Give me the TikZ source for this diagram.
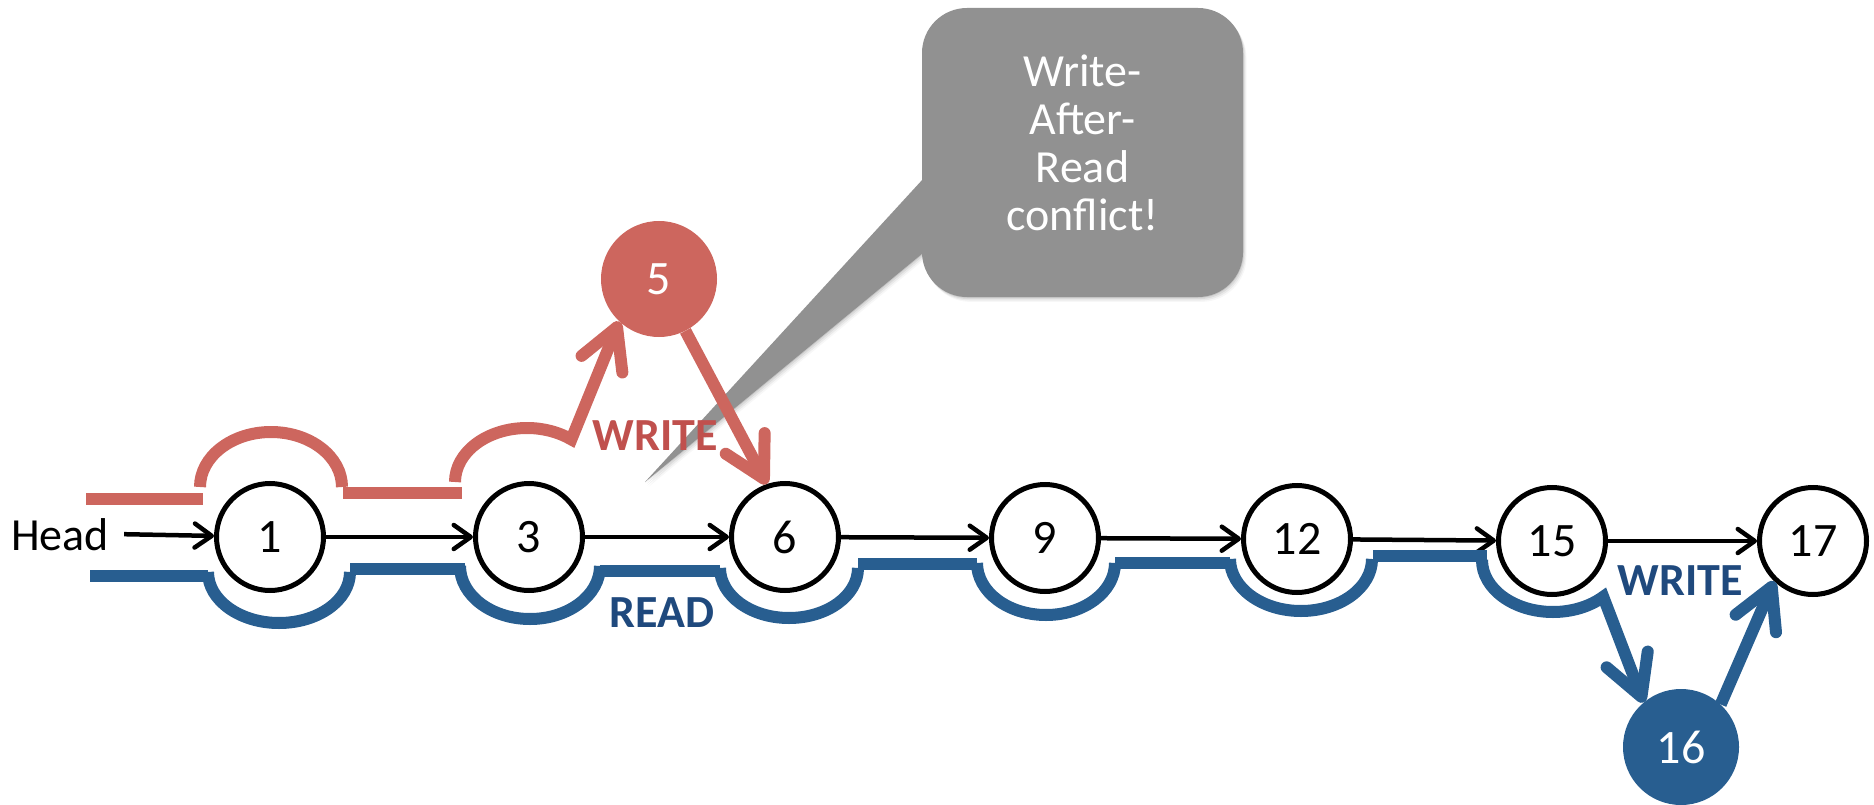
\documentclass[tikz,border=0pt]{standalone}
\usepackage{fontspec}
\setmainfont{Carlito}
\usetikzlibrary{arrows.meta}
\definecolor{trackred}{RGB}{205,102,94}
\definecolor{trackblue}{RGB}{40,94,144}
\definecolor{labelred}{RGB}{192,80,77}
\definecolor{labelblue}{RGB}{31,73,125}
\definecolor{bubblegray}{RGB}{145,145,145}
\begin{document}
\begin{tikzpicture}[x=1pt,y=1pt,
  listnode/.style={circle,draw=black,line width=5pt,minimum size=107pt,inner sep=0pt,
    fill=white,font=\fontsize{48}{56}\selectfont},
  newnode/.style={circle,minimum size=116pt,inner sep=0pt,text=white,
    font=\fontsize{48}{56}\selectfont},
  link/.style={line width=4.5pt,-{Straight Barb[length=17pt,width=24pt,round]}},
  track/.style={line width=12pt},
  redtrack/.style={track,draw=trackred},
  bluetrack/.style={track,draw=trackblue},
  bigtip/.style={-{Straight Barb[length=40pt,width=44pt,round]}},
  oplabel/.style={font=\fontsize{46}{54}\selectfont\bfseries,inner sep=0pt},
  callout/.style={fill=bubblegray,rounded corners=45pt,minimum width=321pt,
    minimum height=289pt,inner sep=0pt},
  callouttext/.style={text=white,align=center,inner sep=0pt,
    font=\fontsize{46}{48}\selectfont},
]
\useasboundingbox (0,0) rectangle (1874,-805);

% soft shadow behind the callout
\foreach \d/\o in {1/0.10,3/0.07,5/0.05,7/0.03}{
  \fill[black,opacity=\o,rounded corners=45pt]
    (922+\d*0.5,-8-\d*0.7) rectangle (1243+\d*0.5,-297-\d*0.7);
  \fill[black,opacity=\o] (645+\d*0.5,-482-\d*0.7) -- (923+\d*0.5,-179-\d*0.7)
    -- (923+\d*0.5,-253-\d*0.7) -- cycle;
}
% callout with its pointer
\coordinate (tailtip) at (645,-482);
\node[callout] (callout) at (1082.5,-152.5) {};
\fill[bubblegray] (tailtip) -- (923,-179) -- (923,-253) -- cycle;
\node[callouttext] (calloutText) at ([yshift=10pt]callout.center)
  {Write-\\After-\\Read\\conflict!};

% list nodes
\node[listnode] (n1)  at (270,-537)  {1};
\node[listnode] (n3)  at (529,-537)  {3};
\node[listnode] (n6)  at (785,-537)  {6};
\node[listnode] (n9)  at (1045,-538) {9};
\node[listnode] (n12) at (1297,-539) {12};
\node[listnode] (n15) at (1552,-541) {15};
\node[listnode] (n17) at (1813,-541) {17};
\node[newnode,fill=trackred]  (n5)  at (659,-279)  {5};
\node[newnode,fill=trackblue] (n16) at (1681,-747) {16};

\node[anchor=base west,inner sep=0pt,font=\fontsize{46}{54}\selectfont] (head) at (11,-550) {Head};

% next pointers
\draw[link] ([xshift=15pt]head.east) -- (n1);
\draw[link] (n1) -- (n3);
\draw[link] (n3) -- (n6);
\draw[link] (n6) -- (n9);
\draw[link] (n9) -- (n12);
\draw[link] (n12) -- (n15);
\draw[link] (n15) -- (n17);

% writer's traversal (above the list)
\draw[redtrack] (86,-499) -- (203,-499);
\draw[redtrack] (200,-487) arc[start angle=180,end angle=0,x radius=71,y radius=55];
\draw[redtrack] (343,-493) -- (462,-493);
\draw[redtrack,bigtip] (455,-482) arc[start angle=180,end angle=52,x radius=72,y radius=54] -- (n5.227);
\draw[redtrack,bigtip] (n5.297) -- (n6.109);

% reader's traversal (below the list)
\draw[bluetrack] (90,-576) -- (208,-576);
\draw[bluetrack] (208,-572) arc[start angle=180,end angle=360,x radius=71,y radius=51];
\draw[bluetrack] (350,-569) -- (465,-569);
\draw[bluetrack] (460,-566) arc[start angle=180,end angle=360,x radius=70,y radius=53];
\draw[bluetrack] (600,-571) -- (720,-571);
\draw[bluetrack] (720,-568) arc[start angle=180,end angle=360,x radius=69,y radius=50];
\draw[bluetrack] (858,-564) -- (977,-564);
\draw[bluetrack] (977,-563) arc[start angle=180,end angle=360,x radius=69,y radius=52];
\draw[bluetrack] (1115,-563) -- (1230,-563);
\draw[bluetrack] (1230,-559) arc[start angle=180,end angle=360,x radius=71,y radius=52];
\draw[bluetrack] (1373,-556) -- (1487,-556);
\draw[bluetrack,bigtip] (1482,-560) arc[start angle=180,end angle=315,x radius=71,y radius=52] -- (n16.130);
\draw[bluetrack,bigtip] (n16.47) -- (n17.226);

% operation labels
\node[oplabel,text=labelred]  (wlabelA) at (655,-436)  {WRITE};
\node[oplabel,text=labelblue] (rlabel)  at (662,-613)  {READ};
\node[oplabel,text=labelblue] (wlabelB) at (1680,-581) {WRITE};
\end{tikzpicture}
\end{document}
